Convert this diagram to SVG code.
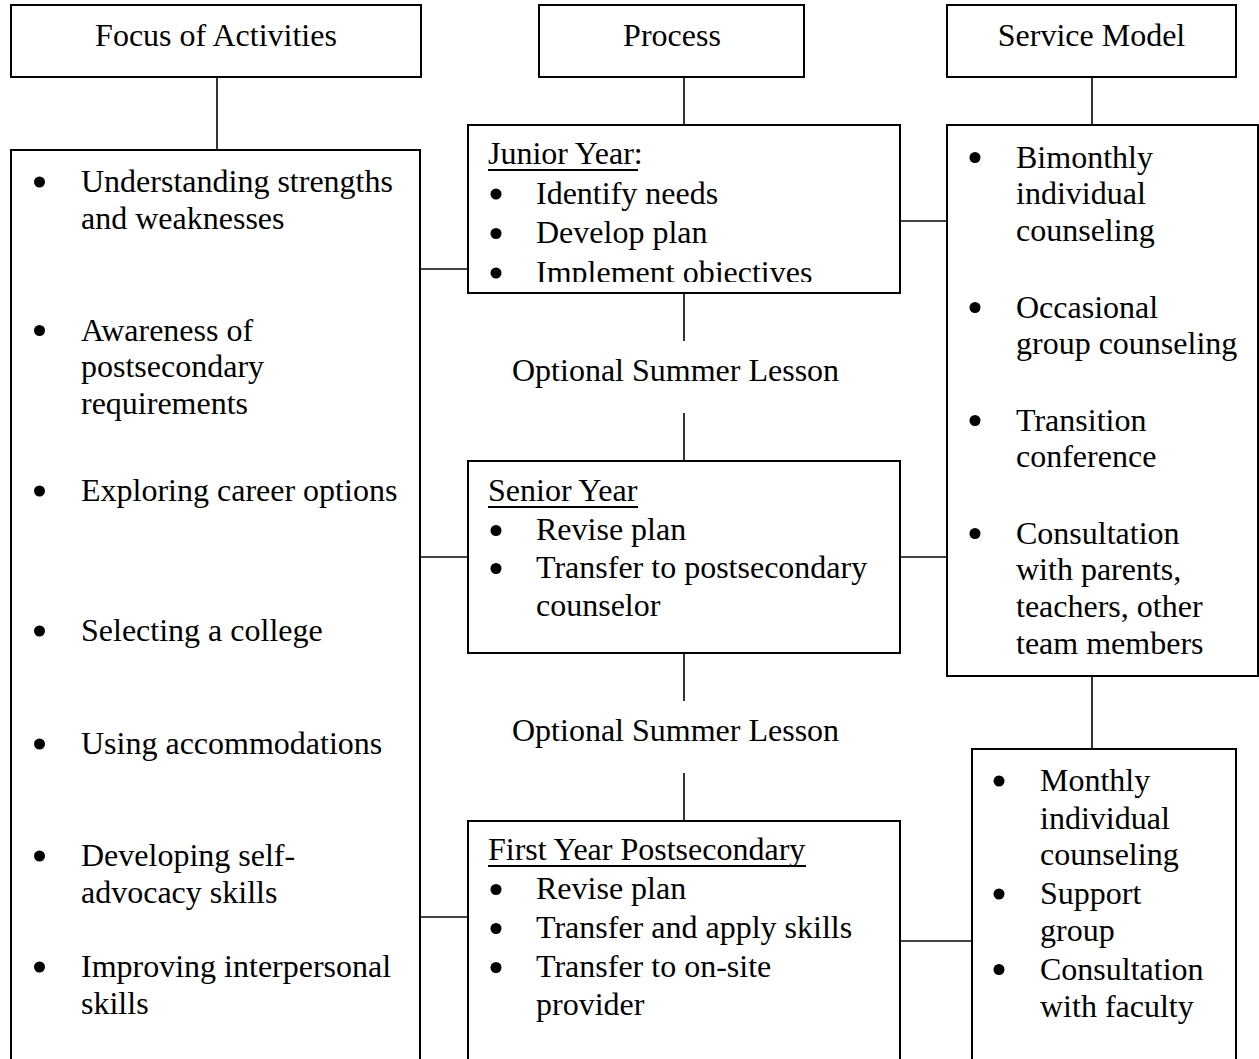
<svg xmlns="http://www.w3.org/2000/svg" width="1259" height="1059" viewBox="0 0 1259 1059">
<style>
  .box { fill: #ffffff; stroke: #000000; stroke-width: 2; }
  .conn { stroke: #000000; stroke-width: 1.6; fill: none; }
  .ul { stroke: #000000; stroke-width: 2; }
  .dot { fill: #000000; }
  text { font-family: "Liberation Serif", "Times New Roman", serif; font-size: 32px; fill: #000000; }
  .c { text-anchor: middle; }
</style>
<defs>
  <clipPath id="juniorClip"><rect x="468" y="125" width="432" height="157"/></clipPath>
</defs>
<rect x="0" y="0" width="1259" height="1059" fill="#ffffff"/>

<g id="connectors">
  <line class="conn" x1="217" y1="77" x2="217" y2="150"/>
  <line class="conn" x1="684" y1="77" x2="684" y2="125"/>
  <line class="conn" x1="1092" y1="77" x2="1092" y2="125"/>
  <line class="conn" x1="684" y1="293" x2="684" y2="341"/>
  <line class="conn" x1="684" y1="413" x2="684" y2="461"/>
  <line class="conn" x1="684" y1="653" x2="684" y2="701"/>
  <line class="conn" x1="684" y1="773" x2="684" y2="821"/>
  <line class="conn" x1="1092" y1="676" x2="1092" y2="749"/>
  <line class="conn" x1="420" y1="269" x2="468" y2="269"/>
  <line class="conn" x1="420" y1="557" x2="468" y2="557"/>
  <line class="conn" x1="420" y1="917" x2="468" y2="917"/>
  <line class="conn" x1="900" y1="221" x2="947" y2="221"/>
  <line class="conn" x1="900" y1="557" x2="947" y2="557"/>
  <line class="conn" x1="900" y1="941" x2="972" y2="941"/>
</g>

<g id="focus-header">
  <rect class="box" x="11" y="5" width="410" height="72"/>
  <text class="c" x="216" y="46">Focus of Activities</text>
</g>
<g id="process-header">
  <rect class="box" x="539" y="5" width="265" height="72"/>
  <text class="c" x="672" y="46">Process</text>
</g>
<g id="service-header">
  <rect class="box" x="947" y="5" width="289" height="72"/>
  <text class="c" x="1091.5" y="46">Service Model</text>
</g>

<g id="focus-list">
  <rect class="box" x="11" y="150" width="409" height="930"/>
  <circle class="dot" cx="39.5" cy="182" r="5.5"/>
  <text x="81" y="192">Understanding strengths</text>
  <text x="81" y="228.5">and weaknesses</text>
  <circle class="dot" cx="39.5" cy="330.5" r="5.5"/>
  <text x="81" y="340.5">Awareness of</text>
  <text x="81" y="377">postsecondary</text>
  <text x="81" y="414">requirements</text>
  <circle class="dot" cx="39.5" cy="491" r="5.5"/>
  <text x="81" y="501">Exploring career options</text>
  <circle class="dot" cx="39.5" cy="631" r="5.5"/>
  <text x="81" y="641">Selecting a college</text>
  <circle class="dot" cx="39.5" cy="744" r="5.5"/>
  <text x="81" y="754">Using accommodations</text>
  <circle class="dot" cx="39.5" cy="856" r="5.5"/>
  <text x="81" y="866">Developing self-</text>
  <text x="81" y="902.5">advocacy skills</text>
  <circle class="dot" cx="39.5" cy="967" r="5.5"/>
  <text x="81" y="977">Improving interpersonal</text>
  <text x="81" y="1013.5">skills</text>
</g>

<g id="junior-year">
  <rect class="box" x="468" y="125" width="432" height="168"/>
  <g clip-path="url(#juniorClip)">
    <text x="488" y="164">Junior Year:</text>
    <line class="ul" x1="488" y1="170" x2="638" y2="170"/>
    <circle class="dot" cx="496" cy="194" r="5.5"/>
    <text x="536" y="203.5">Identify needs</text>
    <circle class="dot" cx="496" cy="233.5" r="5.5"/>
    <text x="536" y="243">Develop plan</text>
    <circle class="dot" cx="496" cy="273" r="5.5"/>
    <text x="536" y="282.5">Implement objectives</text>
  </g>
</g>

<g id="summer-1">
  <text x="512" y="381">Optional Summer Lesson</text>
</g>

<g id="senior-year">
  <rect class="box" x="468" y="461" width="432" height="192"/>
  <text x="488" y="501">Senior Year</text>
  <line class="ul" x1="488" y1="507" x2="638" y2="507"/>
  <circle class="dot" cx="496" cy="530.5" r="5.5"/>
  <text x="536" y="540">Revise plan</text>
  <circle class="dot" cx="496" cy="568.5" r="5.5"/>
  <text x="536" y="578">Transfer to postsecondary</text>
  <text x="536" y="616">counselor</text>
</g>

<g id="summer-2">
  <text x="512" y="741">Optional Summer Lesson</text>
</g>

<g id="first-year">
  <rect class="box" x="468" y="821" width="432" height="260"/>
  <text x="488" y="860">First Year Postsecondary</text>
  <line class="ul" x1="488" y1="866" x2="806" y2="866"/>
  <circle class="dot" cx="496" cy="889.5" r="5.5"/>
  <text x="536" y="899">Revise plan</text>
  <circle class="dot" cx="496" cy="928.5" r="5.5"/>
  <text x="536" y="938">Transfer and apply skills</text>
  <circle class="dot" cx="496" cy="967.5" r="5.5"/>
  <text x="536" y="977">Transfer to on-site</text>
  <text x="536" y="1015">provider</text>
</g>

<g id="service-list">
  <rect class="box" x="947" y="125" width="311" height="551"/>
  <circle class="dot" cx="975" cy="157.5" r="5.5"/>
  <text x="1016" y="167.5">Bimonthly</text>
  <text x="1016" y="204">individual</text>
  <text x="1016" y="240.5">counseling</text>
  <circle class="dot" cx="975" cy="307.5" r="5.5"/>
  <text x="1016" y="317.5">Occasional</text>
  <text x="1016" y="354">group counseling</text>
  <circle class="dot" cx="975" cy="420.5" r="5.5"/>
  <text x="1016" y="430.5">Transition</text>
  <text x="1016" y="467">conference</text>
  <circle class="dot" cx="975" cy="533.5" r="5.5"/>
  <text x="1016" y="543.5">Consultation</text>
  <text x="1016" y="580">with parents,</text>
  <text x="1016" y="617">teachers, other</text>
  <text x="1016" y="653.5">team members</text>
</g>

<g id="postsecondary-service">
  <rect class="box" x="972" y="749" width="264" height="330"/>
  <circle class="dot" cx="999" cy="781" r="5.5"/>
  <text x="1040" y="791">Monthly</text>
  <text x="1040" y="828.5">individual</text>
  <text x="1040" y="865">counseling</text>
  <circle class="dot" cx="999" cy="894" r="5.5"/>
  <text x="1040" y="904">Support</text>
  <text x="1040" y="941">group</text>
  <circle class="dot" cx="999" cy="969.5" r="5.5"/>
  <text x="1040" y="979.5">Consultation</text>
  <text x="1040" y="1017">with faculty</text>
</g>
</svg>
